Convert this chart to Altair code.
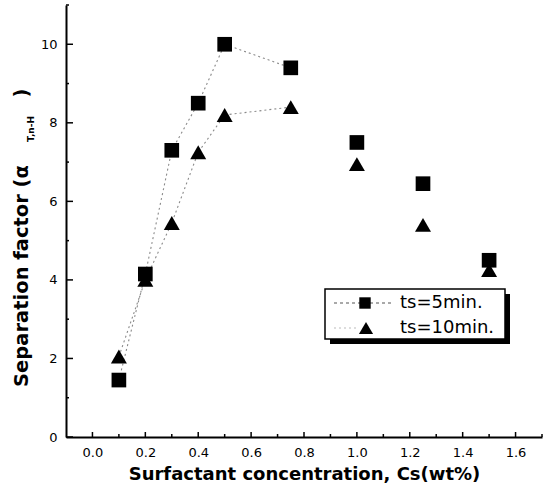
import altair as alt
import pandas as pd

# ---- data ----
cs = [0.1, 0.2, 0.3, 0.4, 0.5, 0.75, 1.0, 1.25, 1.5]
ts5 = [1.45, 4.15, 7.3, 8.5, 10.0, 9.4, 7.5, 6.45, 4.5]
ts10 = [2.05, 4.0, 5.45, 7.25, 8.2, 8.4, 6.95, 5.4, 4.25]
series_labels = ["ts=5min.", "ts=10min."]
x_major = [0.0, 0.2, 0.4, 0.6, 0.8, 1.0, 1.2, 1.4, 1.6]
x_minor = [0.1, 0.3, 0.5, 0.7, 0.9, 1.1, 1.3, 1.5, 1.7]
y_major = [0, 2, 4, 6, 8, 10]
y_minor = [1, 3, 5, 7, 9, 11]
x_title = "Surfactant concentration, Cs(wt%)"
y_title_main = "Separation factor (α"
y_title_sub = "T,n-H"
y_title_close = ")"
line_until = 0.75  # connecting lines visible in the reference only up to here

FONT = "DejaVu Sans"
W, H = 476, 432

df = pd.DataFrame({
    "cs": cs + cs,
    "sf": ts5 + ts10,
    "series": [series_labels[0]] * len(cs) + [series_labels[1]] * len(cs),
})

xs = alt.Scale(domain=[-0.1, 1.7], nice=False, zero=False)
ys = alt.Scale(domain=[0, 11], nice=False)

xaxis = alt.Axis(
    values=x_major, format=".1f", ticks=False, tickSize=0, grid=False,
    domainColor="black", domainWidth=2, labelFont=FONT, labelFontSize=13,
    labelColor="black", labelPadding=9, title=x_title, titleFont=FONT,
    titleFontSize=18, titleFontWeight="bold", titleColor="black",
    titlePadding=6)
yaxis = alt.Axis(
    values=y_major, format="d", ticks=False, tickSize=0, grid=False,
    domainColor="black", domainWidth=2, labelFont=FONT, labelFontSize=13,
    labelColor="black", labelPadding=9, title=None)

def X(f):
    return alt.X(f, scale=xs, axis=xaxis, title=x_title)

def Y(f):
    return alt.Y(f, scale=ys, axis=yaxis, title=None)

base = alt.Chart(df)

lines = base.transform_filter(alt.datum.cs <= line_until).mark_line(
    color="#8a8a8a", strokeDash=[2, 3], strokeWidth=1.1
).encode(x=X("cs:Q"), y=Y("sf:Q"), detail="series:N")

points = base.mark_point(filled=True, opacity=1, color="black").encode(
    x=X("cs:Q"),
    y=Y("sf:Q"),
    shape=alt.Shape("series:N", scale=alt.Scale(domain=series_labels[::-1],
                    range=["triangle-up", "square"]), legend=None),
    size=alt.Size("series:N", scale=alt.Scale(domain=series_labels[::-1],
                  range=[256, 215]), legend=None),
    order=alt.Order("series:N", sort="ascending"),
)

def tick_layer(values, orient, length):
    d = alt.Chart(pd.DataFrame({"cs": values, "sf": values}))
    if orient == "y":
        return d.mark_rule(color="black", strokeWidth=1.5).encode(
            y=Y("sf:Q"), x=alt.value(0), x2=alt.value(length))
    return d.mark_rule(color="black", strokeWidth=1.5).encode(
        x=X("cs:Q"), y=alt.value(H), y2=alt.value(H - length))

ticks = [
    tick_layer(y_major, "y", 7), tick_layer(y_minor, "y", 3),
    tick_layer(x_major, "x", 5), tick_layer(x_minor, "x", 3),
]

def text_layer(txt, x, y, size, weight="normal", angle=0, align="center"):
    return alt.Chart(pd.DataFrame({"t": [txt]})).mark_text(
        font=FONT, fontSize=size, fontWeight=weight, angle=angle,
        align=align, baseline="middle", color="black"
    ).encode(text="t:N", x=alt.value(x), y=alt.value(y))

ytitle = [
    text_layer(y_title_main, -44, 271, 19.5, "bold", 270),
    text_layer(y_title_sub, -35, 124, 9, "bold", 270),
    text_layer(y_title_close, -44, 88, 19.5, "bold", 270),
]

one = pd.DataFrame({"a": [0]})
# legend box with drop shadow
shadow = alt.Chart(one).mark_rect(color="black").encode(
    x=alt.value(264), x2=alt.value(444), y=alt.value(289), y2=alt.value(339))
box = alt.Chart(one).mark_rect(fill="white", stroke="black", strokeWidth=1.5).encode(
    x=alt.value(259), x2=alt.value(439), y=alt.value(284), y2=alt.value(334))
leg_line1 = alt.Chart(one).mark_rule(color="#555", strokeDash=[3, 3], strokeWidth=1.2).encode(
    x=alt.value(268), x2=alt.value(328), y=alt.value(298))
leg_line2 = alt.Chart(one).mark_rule(color="#bbb", strokeDash=[2, 3], strokeWidth=1).encode(
    x=alt.value(268), x2=alt.value(290), y=alt.value(323))
leg_sq = alt.Chart(one).mark_point(shape="square", filled=True, opacity=1, color="black", size=130).encode(
    x=alt.value(299), y=alt.value(298))
leg_tri = alt.Chart(one).mark_point(shape="triangle-up", filled=True, opacity=1, color="black", size=200).encode(
    x=alt.value(300), y=alt.value(323))
leg_t1 = text_layer(series_labels[0], 334, 298, 18, align="left")
leg_t2 = text_layer(series_labels[1], 334, 323, 18, align="left")

chart = alt.layer(
    lines, *ticks, points, *ytitle,
    shadow, box, leg_line1, leg_line2, leg_sq, leg_tri, leg_t1, leg_t2
).properties(
    width=W, height=H,
    autosize=alt.AutoSizeParams(type="none"),
    padding={"left": 66, "top": 5, "right": 7, "bottom": 52},
    background="white",
).configure_view(strokeWidth=0)

chart.save("out.html", embed_options={"renderer": "svg", "actions": False})
